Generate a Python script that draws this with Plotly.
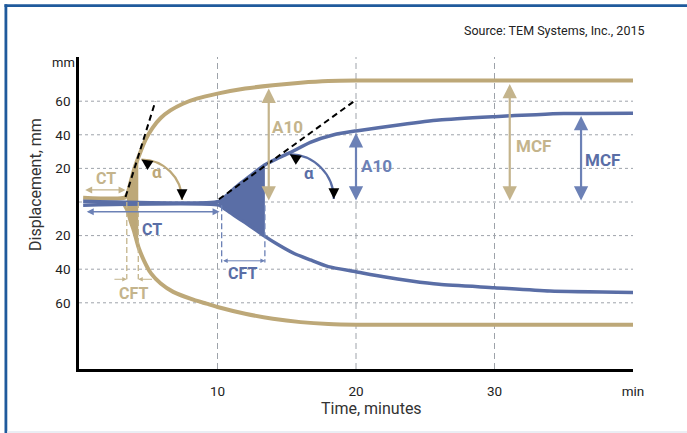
import numpy as np
import plotly.graph_objects as go

# ---------------- data ----------------
gold_upper_t = [0.3, 3.3, 3.5, 3.7, 4.0, 4.4, 4.8, 5.3, 5.9, 6.6, 7.5, 8.5, 10, 12, 14, 16, 18, 20, 30, 40]
gold_upper_v = [2.6, 2.6, 5, 11, 20, 29, 37, 44, 50, 54.5, 58.5, 61.5, 64.5, 67.5, 69.5, 71, 72, 72.3, 72.3, 72.3]
gold_lower_t = [3.3, 3.5, 3.75, 3.96, 4.3, 4.7, 5.2, 5.9, 6.8, 8.3, 9.2, 10, 12, 14, 16, 18, 20, 30, 40]
gold_lower_v = [-1.9, -5, -12, -17, -27, -35, -42.5, -48.5, -53.5, -58.3, -60.5, -62.5, -66.5, -69.5, -71.5, -72.6, -73, -73, -73]

blue_upper_t = [0.3, 10.1, 10.6, 11.2, 11.8, 12.5, 13.4, 14.3, 15.2, 16.7, 18.4, 20, 23.2, 26, 30, 33, 35, 40]
blue_upper_v = [0.4, 0.4, 3.5, 8, 12, 16.5, 22, 25.8, 29.2, 35.5, 40, 42.3, 46, 48.8, 50.8, 52, 52.6, 52.8]
blue_lower_t = [0.3, 10.1, 10.6, 11.3, 12, 12.7, 13.4, 14.3, 15.5, 16.7, 18, 20, 22, 24, 26, 30, 34, 40]
blue_lower_v = [-1.9, -1.9, -4.5, -8.5, -12.3, -16.2, -20.3, -25, -30.5, -34.5, -38.5, -41.5, -44.5, -47, -49, -51, -53, -53.8]

gold_ct = [0.34, 3.36]          # CT arrow span (min)
gold_ct_level = 7.2
blue_ct = [0.45, 10.15]
blue_ct_level = -5.8
gold_cft = [3.45, 4.28]         # CFT span (min)
gold_cft_level = -46
blue_cft = [10.3, 13.42]
blue_cft_level = -35

gold_tangent_t = [3.36, 5.52]
gold_tangent_v = [3, 60]
blue_tangent_t = [10.1, 19.9]
blue_tangent_v = [1.6, 60.2]

# alpha arcs: start, control1, control2, end  (min, mm)
gold_arc = [(4.51, 25.3), (6.12, 25.3), (7.44, 14.5), (7.44, 1.2)]
blue_arc = [(15.22, 28.4), (16.97, 28.4), (18.4, 16.4), (18.4, 1.8)]

# amplitude arrows: x position, top value
gold_a10 = (13.7, 67.5)
blue_a10 = (20.0, 41.0)
gold_mcf = (31.1, 70.2)
blue_mcf = (36.25, 51.2)

x_ticks = [10, 20, 30, 40]
x_ticktext = ["10", "20", "30", "min"]
y_ticks = [60, 40, 20, -20, -40, -60]
y_ticktext = ["60", "40", "20", "20", "40", "60"]
grid_y = [-60, -40, -20, 0, 20, 40, 60]
grid_x = [10, 20, 30]

# ---------------- styling ----------------
GOLD = "#BDA878"
GOLD_L = "#C4B48C"
BLUE = "#5A6EA6"
BLUE_L = "#6C81B6"
GRID = "#9EA3AA"
FONT = "Roboto"
X_RANGE = [0, 40]
Y_RANGE = [-99.4, 86.3]

fig = go.Figure()


def fill_between(tu, vu, tl, vl, t0, t1):
    tu, vu, tl, vl = map(np.asarray, (tu, vu, tl, vl))
    mu = (tu > t0) & (tu < t1)
    ml = (tl > t0) & (tl < t1)
    xs_u = np.concatenate([[t0], tu[mu], [t1]])
    ys_u = np.concatenate([[np.interp(t0, tu, vu)], vu[mu], [np.interp(t1, tu, vu)]])
    xs_l = np.concatenate([[t0], tl[ml], [t1]])
    ys_l = np.concatenate([[np.interp(t0, tl, vl)], vl[ml], [np.interp(t1, tl, vl)]])
    return np.concatenate([xs_u, xs_l[::-1]]), np.concatenate([ys_u, ys_l[::-1]])


# gold CFT fill
fx, fy = fill_between(gold_upper_t, gold_upper_v, gold_lower_t, gold_lower_v, gold_cft[0], gold_cft[1])
fig.add_trace(go.Scatter(x=fx, y=fy, fill="toself", fillcolor=GOLD, line=dict(width=0),
                         mode="lines", hoverinfo="skip", showlegend=False))
# gold curves
for t, v in ((gold_upper_t, gold_upper_v), (gold_lower_t, gold_lower_v)):
    fig.add_trace(go.Scatter(x=t, y=v, mode="lines", line=dict(color=GOLD, width=4, shape="spline", smoothing=0.6),
                             hoverinfo="skip", showlegend=False))
# blue CFT fill
fx, fy = fill_between(blue_upper_t, blue_upper_v, blue_lower_t, blue_lower_v, blue_ct[1] - 0.05, blue_cft[1])
fig.add_trace(go.Scatter(x=fx, y=fy, fill="toself", fillcolor=BLUE, line=dict(width=0),
                         mode="lines", hoverinfo="skip", showlegend=False))
for t, v in ((blue_upper_t, blue_upper_v), (blue_lower_t, blue_lower_v)):
    fig.add_trace(go.Scatter(x=t, y=v, mode="lines", line=dict(color=BLUE, width=3.5, shape="spline", smoothing=0.6),
                             hoverinfo="skip", showlegend=False))
# tangents
for t, v in ((gold_tangent_t, gold_tangent_v), (blue_tangent_t, blue_tangent_v)):
    fig.add_trace(go.Scatter(x=t, y=v, mode="lines", line=dict(color="black", width=2, dash="6px,4px"),
                             hoverinfo="skip", showlegend=False))

shapes = []
# gridlines
for gy in grid_y:
    shapes.append(dict(type="line", xref="x", yref="y", x0=0, x1=40.1, y0=gy, y1=gy, layer="below",
                       line=dict(color=GRID, width=1, dash="3px,3px")))
for gx in grid_x:
    shapes.append(dict(type="line", xref="x", yref="y", x0=gx, x1=gx, y0=Y_RANGE[0], y1=Y_RANGE[1], layer="below",
                       line=dict(color=GRID, width=1, dash="6px,4px")))
# CFT dashed verticals
for cx in gold_cft:
    shapes.append(dict(type="line", xref="x", yref="y", x0=cx, x1=cx, y0=0, y1=gold_cft_level,
                       line=dict(color=GOLD_L, width=1.3, dash="6px,3px")))
for cx in blue_cft:
    shapes.append(dict(type="line", xref="x", yref="y", x0=cx, x1=cx, y0=-2, y1=blue_cft_level - 1,
                       line=dict(color=BLUE_L, width=1.3, dash="6px,3px")))
# alpha arcs
for arc, col in ((gold_arc, GOLD), (blue_arc, BLUE)):
    (x0, y0), (c1x, c1y), (c2x, c2y), (x1, y1) = arc
    shapes.append(dict(type="path", xref="x", yref="y",
                       path=f"M {x0},{y0} C {c1x},{c1y} {c2x},{c2y} {x1},{y1}",
                       line=dict(color=col, width=2.2)))

# frame (paper coords relative to plot area: l=79, t=57, w=554, h=312)
def px(xp):
    return (xp - 79) / 554


def py(yp):
    return (369 - yp) / 312


shapes.append(dict(type="rect", xref="paper", yref="paper", x0=px(4.5), x1=px(690), y0=py(7), y1=py(4.3),
                   fillcolor="#1F5A9C", line=dict(width=0)))
shapes.append(dict(type="rect", xref="paper", yref="paper", x0=px(4.5), x1=px(7.3), y0=py(436), y1=py(4.3),
                   fillcolor="#1F5A9C", line=dict(width=0)))
shapes.append(dict(type="line", xref="paper", yref="paper", x0=px(7), x1=px(690), y0=py(432), y1=py(432),
                   line=dict(color="#E3E9F0", width=1.5)))

ann = []


def arrow(x_tip, y_tip, x_tail, y_tail, col, width, size, both=True):
    ann.append(dict(x=x_tip, y=y_tip, ax=x_tail, ay=y_tail, xref="x", yref="y", axref="x", ayref="y",
                    text="", showarrow=True, arrowhead=2, arrowsize=size, arrowwidth=width, arrowcolor=col,
                    arrowside="end+start" if both else "end", startarrowhead=2, startarrowsize=size,
                    standoff=0, startstandoff=0))


arrow(gold_a10[0], gold_a10[1], gold_a10[0], 0, GOLD_L, 2.2, 1.3)
arrow(blue_a10[0], blue_a10[1], blue_a10[0], 0, BLUE_L, 2.2, 1.3)
arrow(gold_mcf[0], gold_mcf[1], gold_mcf[0], 0, GOLD_L, 2.2, 1.3)
arrow(blue_mcf[0], blue_mcf[1], blue_mcf[0], 0, BLUE_L, 2.2, 1.3)
arrow(gold_ct[1], gold_ct_level, gold_ct[0], gold_ct_level, GOLD_L, 1.4, 1.0)
arrow(blue_ct[1], blue_ct_level, blue_ct[0], blue_ct_level, BLUE_L, 1.4, 1.0)
arrow(blue_cft[1], blue_cft_level, blue_cft[0], blue_cft_level, BLUE_L, 1.0, 0.9)
arrow(gold_cft[0], gold_cft_level, gold_cft[0] - 1.0, gold_cft_level, GOLD_L, 1.0, 0.9, both=False)
arrow(gold_cft[1], gold_cft_level, gold_cft[1] + 1.1, gold_cft_level, GOLD_L, 1.0, 0.9, both=False)

# arc arrowheads (black)
for arc in (gold_arc, blue_arc):
    (x0, y0) = arc[0]
    (x1, y1) = arc[3]
    ann.append(dict(x=x0, y=y0, ax=9, ay=6, xref="x", yref="y", text="", showarrow=True,
                    arrowhead=2, arrowsize=1.8, arrowwidth=1.2, arrowcolor="black", standoff=0))
    ann.append(dict(x=x1, y=y1, ax=0, ay=-10, xref="x", yref="y", text="", showarrow=True,
                    arrowhead=2, arrowsize=1.8, arrowwidth=1.2, arrowcolor="black", standoff=0))

labels = [
    ("CT", 1.93, 14.2, GOLD_L, 16), ("CT", 5.3, -16.4, BLUE, 16),
    ("CFT", 3.95, -54.5, GOLD_L, 16), ("CFT", 11.8, -42.4, BLUE, 16),
    ("α", 5.63, 17.8, GOLD, 17), ("α", 16.6, 17.2, BLUE, 17),
    ("A10", 15.05, 44.8, GOLD_L, 17), ("A10", 21.5, 21.2, BLUE_L, 17),
    ("MCF", 32.8, 33.2, GOLD_L, 17), ("MCF", 37.8, 24.8, BLUE, 17),
]
for txt, lx, ly, col, sz in labels:
    ann.append(dict(x=lx, y=ly, xref="x", yref="y", text=txt, showarrow=False,
                    font=dict(family=FONT, size=sz, color=col, weight=700)))

ann.append(dict(x=px(646), y=py(30.7), xref="paper", yref="paper", xanchor="right", yanchor="middle",
                text="Source: TEM Systems, Inc., 2015", showarrow=False,
                font=dict(family=FONT, size=12.5, color="#222")))
ann.append(dict(x=px(77), y=py(62), xref="paper", yref="paper", xanchor="right", yanchor="middle",
                text="mm", showarrow=False, font=dict(family=FONT, size=13, color="#222")))
ann.append(dict(x=px(35), y=py(185), xref="paper", yref="paper", xanchor="center", yanchor="middle",
                text="Displacement, mm", textangle=-90, showarrow=False,
                font=dict(family=FONT, size=16, color="#333")))
ann.append(dict(x=px(371.6), y=py(408), xref="paper", yref="paper", xanchor="center", yanchor="middle",
                text="Time, minutes", showarrow=False, font=dict(family=FONT, size=16, color="#333")))

fig.update_layout(
    width=687, height=433,
    margin=dict(l=79, r=54, t=57, b=64),
    paper_bgcolor="white", plot_bgcolor="white",
    showlegend=False,
    shapes=shapes, annotations=ann,
    xaxis=dict(range=X_RANGE, showgrid=False, zeroline=False, showline=True, linecolor="black", linewidth=2.5,
               tickvals=x_ticks, ticktext=x_ticktext, ticks="", ticklabelstandoff=8,
               tickfont=dict(family=FONT, size=13.5, color="#222"), fixedrange=True),
    yaxis=dict(range=Y_RANGE, showgrid=False, zeroline=False, showline=True, linecolor="black", linewidth=2.5,
               tickvals=y_ticks, ticktext=y_ticktext, ticks="", ticklabelstandoff=3,
               tickfont=dict(family=FONT, size=13.5, color="#222"), fixedrange=True),
)

# the page itself gets no default body margin, so the figure sits at the window's top-left corner
fig.write_html("out.html", config={"displayModeBar": False},
               post_script="document.body.style.margin='0';")
